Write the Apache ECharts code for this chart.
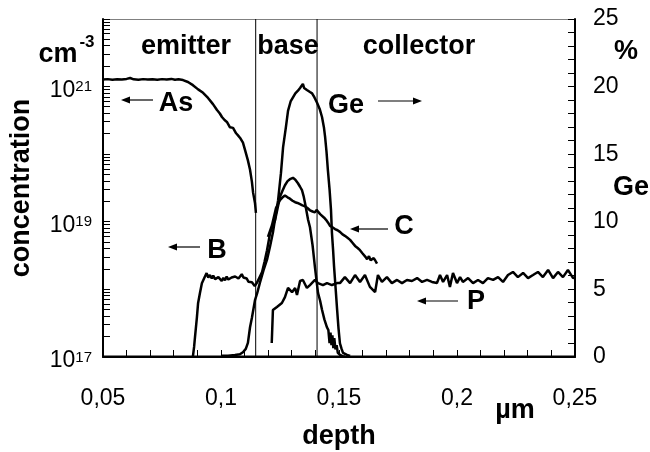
<!DOCTYPE html>
<html><head><meta charset="utf-8">
<script src="https://cdn.jsdelivr.net/npm/echarts@6/dist/echarts.min.js"></script>
<style>html,body{margin:0;padding:0;background:#fff}#c{width:650px;height:452px}</style>
</head><body><div id="c"></div>
<script>
// ---- data (depth in µm, concentration in cm^-3, Ge in %) ----
const depthTicks = [0.05, 0.10, 0.15, 0.20, 0.25];
const regionBoundaries = [0.1147, 0.1407];

const asDepth = [0.0500,0.0520,0.0540,0.0560,0.0580,0.0600,0.0615,0.0630,0.0650,0.0670,0.0690,0.0710,0.0730,0.0750,0.0770,0.0790,0.0805,0.0820,0.0839,0.0860,0.0881,0.0903,0.0924,0.0945,0.0966,0.0983,0.0995,0.1004,0.1015,0.1025,0.1038,0.1051,0.1064,0.1072,0.1081,0.1093,0.1102,0.1114,0.1123,0.1131,0.1136,0.1144,0.1148];
const asConc  = [1.27e21,1.29e21,1.26e21,1.28e21,1.27e21,1.30e21,1.34e21,1.28e21,1.26e21,1.29e21,1.27e21,1.28e21,1.26e21,1.29e21,1.27e21,1.30e21,1.26e21,1.28e21,1.25e21,1.17e21,1.05e21,9.1e20,8.1e20,6.8e20,5.5e20,4.5e20,4.0e20,3.55e20,3.2e20,3.0e20,2.5e20,2.45e20,2.04e20,1.9e20,1.74e20,1.48e20,1.15e20,8.1e19,5.9e19,3.9e19,2.7e19,1.9e19,1.35e19];

const bDepth = [0.0881,0.0886,0.0890,0.0898,0.0903,0.0911,0.0919,0.0932,0.0939,0.0946,0.0953,0.0961,0.0967,0.0975,0.0982,0.0989,0.0996,0.1003,0.1010,0.1017,0.1024,0.1031,0.1038,0.1045,0.1052,0.1060,0.1067,0.1074,0.1081,0.1088,0.1095,0.1102,0.1109,0.1116,0.1123,0.1131,0.1137,0.1143,0.1148,0.1152,0.1157,0.1165,0.1174,0.1185,0.1195,0.1208,0.1218,0.1229,0.1240,0.1250,0.1261,0.1271,0.1282,0.1292,0.1305,0.1315,0.1326,0.1335,0.1343,0.1350,0.1356,0.1369,0.1377,0.1388,0.1398,0.1411,0.1420,0.1428,0.1438,0.1449,0.1455,0.1460,0.1464,0.1468,0.1472,0.1476,0.1480,0.1485,0.1490,0.1495,0.1504,0.1515,0.1525];
const bConc  = [1.02e17,1.41e17,2.0e17,3.9e17,6.3e17,8.9e17,1.23e18,1.55e18,1.74e18,1.5e18,1.63e18,1.45e18,1.6e18,1.42e18,1.38e18,1.52e18,1.45e18,1.33e18,1.48e18,1.36e18,1.55e18,1.40e18,1.38e18,1.50e18,1.42e18,1.55e18,1.60e18,1.45e18,1.52e18,1.68e18,1.50e18,1.58e18,1.45e18,1.30e18,1.25e18,1.28e18,1.20e18,1.12e18,1.17e18,1.25e18,1.29e18,1.55e18,1.80e18,2.6e18,3.8e18,6.8e18,8.5e18,1.05e19,1.6e19,2.34e19,2.9e19,3.47e19,4.0e19,4.27e19,4.47e19,4.2e19,3.72e19,3.3e19,2.95e19,2.4e19,1.9e19,1.07e19,8.3e18,4.5e18,2.14e18,8.9e17,6.8e17,5.0e17,3.6e17,2.75e17,2.5e17,1.6e17,2.3e17,1.5e17,2.1e17,1.35e17,1.9e17,1.3e17,1.5e17,1.15e17,1.08e17,1.03e17,1.01e17];

const cDepth = [0.1199,0.1216,0.1233,0.1250,0.1261,0.1271,0.1282,0.1292,0.1303,0.1314,0.1324,0.1335,0.1345,0.1356,0.1366,0.1377,0.1388,0.1398,0.1405,0.1411,0.1420,0.1428,0.1437,0.1445,0.1453,0.1462,0.1472,0.1483,0.1494,0.1504,0.1515,0.1525,0.1536,0.1547,0.1557,0.1568,0.1579,0.1589,0.1600,0.1606,0.1613,0.1619,0.1627,0.1634,0.1640,0.1647,0.1653,0.1661];
const cConc  = [6.0e18,8.9e18,1.6e19,2.1e19,2.3e19,2.45e19,2.3e19,2.2e19,2.05e19,1.95e19,1.9e19,1.82e19,1.75e19,1.7e19,1.6e19,1.48e19,1.42e19,1.38e19,1.5e19,1.55e19,1.3e19,1.23e19,1.15e19,1.07e19,9.8e18,8.7e18,8.3e18,7.8e18,7.5e18,7.1e18,6.5e18,6.2e18,5.8e18,5.4e18,4.9e18,4.4e18,4.1e18,3.8e18,3.4e18,3.2e18,3.0e18,2.8e18,3.1e18,2.7e18,2.6e18,2.9e18,2.7e18,2.4e18];

const pDepth = [0.1215,0.1220,0.1237,0.1258,0.1271,0.1284,0.1301,0.1314,0.1322,0.1335,0.1347,0.1364,0.1377,0.1398,0.1411,0.1432,0.1449,0.1470,0.1492,0.1504,0.1525,0.1547,0.1568,0.1589,0.1610,0.1631,0.1653,0.1665,0.1682,0.1703,0.1724,0.1746,0.1767,0.1788,0.1809,0.1831,0.1852,0.1873,0.1894,0.1915,0.1928,0.1941,0.1958,0.1970,0.1983,0.2000,0.2013,0.2025,0.2047,0.2068,0.2089,0.2110,0.2131,0.2153,0.2174,0.2195,0.2216,0.2237,0.2258,0.2280,0.2301,0.2322,0.2343,0.2364,0.2386,0.2407,0.2428,0.2449,0.2470,0.2492,0.2500];
const pConc  = [1.61e17,4.95e17,5.5e17,6.3e17,7.7e17,1.05e18,9.1e17,1.05e18,8.3e17,1.33e18,1.38e18,1.05e18,1.16e18,1.38e18,1.24e18,1.16e18,1.24e18,1.16e18,1.24e18,1.24e18,1.52e18,1.24e18,1.63e18,1.29e18,1.63e18,1.09e18,9.1e17,1.63e18,1.29e18,1.52e18,1.24e18,1.38e18,1.24e18,1.38e18,1.33e18,1.47e18,1.29e18,1.38e18,1.29e18,1.24e18,1.63e18,1.29e18,1.63e18,1.09e18,1.75e18,1.24e18,1.52e18,1.29e18,1.47e18,1.24e18,1.38e18,1.24e18,1.47e18,1.38e18,1.52e18,1.29e18,1.63e18,1.81e18,1.52e18,1.75e18,1.47e18,1.63e18,1.81e18,1.52e18,1.94e18,1.47e18,1.81e18,1.52e18,1.94e18,1.47e18,1.52e18];

const geDepth = [0.1004,0.1030,0.1059,0.1080,0.1093,0.1105,0.1114,0.1123,0.1131,0.1144,0.1153,0.1165,0.1180,0.1195,0.1208,0.1220,0.1229,0.1242,0.1254,0.1263,0.1275,0.1284,0.1295,0.1305,0.1315,0.1326,0.1335,0.1341,0.1347,0.1352,0.1356,0.1364,0.1371,0.1377,0.1386,0.1396,0.1407,0.1419,0.1428,0.1436,0.1441,0.1447,0.1453,0.1460,0.1466,0.1470,0.1475,0.1479,0.1486,0.1492,0.1498,0.1504,0.1511,0.1517,0.1534,0.1547];
const gePct   = [0.1,0.1,0.15,0.2,0.35,0.6,1.04,2.2,2.9,4.2,4.7,5.5,6.4,7.2,8.2,9.2,10.2,11.6,13.6,15.5,17.0,18.2,18.9,19.2,19.5,19.7,19.9,20.0,20.2,19.9,19.95,19.75,19.7,19.6,19.5,19.2,18.8,18.3,17.75,17.0,16.3,15.2,13.8,12.4,10.9,9.2,7.9,6.7,5.0,3.5,2.1,1.0,0.6,0.3,0.15,0.07];

// ---- chart ----
const F = 'Liberation Sans, Arial, sans-serif';
const zip = (a, b) => a.map((v, i) => [v, b[i]]);
const xMin = depthTicks[0], xMax = depthTicks[depthTicks.length - 1];
const yMin = 1e17, yMax = 1e22;
const geMin = 0, geMax = 25;

// tick positions (axis structure)
const logTicks = [];
[17, 18, 19, 20, 21].forEach(e => { for (let k = 1; k <= 9; k++) logTicks.push(k * Math.pow(10, e)); });
logTicks.push(yMax);
const xTicks = []; for (let i = 0; i <= 20; i++) xTicks.push(+(xMin + i * 0.01).toFixed(3));
const geTicks = []; for (let i = geMin; i <= geMax; i++) geTicks.push(i);

const lineSeries = (name, data, yIdx, w) => ({
  name, type: 'line', data, yAxisIndex: yIdx, showSymbol: false, symbol: 'none', silent: true,
  lineStyle: { color: '#000', width: w || 2.5 }, itemStyle: { color: '#000' }, z: 3
});
const tickSeries = (name, yIdx, data, dx, dy) => ({
  type: 'custom', name, coordinateSystem: 'cartesian2d', xAxisIndex: 0, yAxisIndex: yIdx,
  clip: false, silent: true, z: 6, data,
  renderItem: (params, api) => {
    const p = api.coord([api.value(0), api.value(1)]);
    const r = dy === 0
      ? { x: dx > 0 ? p[0] : p[0] + dx, y: Math.floor(p[1]), width: Math.abs(dx), height: 1 }
      : { x: Math.floor(p[0]), y: dy > 0 ? p[1] : p[1] + dy, width: 1, height: Math.abs(dy) };
    return { type: 'rect', shape: r, style: { fill: '#000' } };
  }
});

const chart = echarts.init(document.getElementById('c'), null, { renderer: 'canvas' });

const bold = s => ({ fill: '#000', font: 'bold ' + s + 'px ' + F });
const txt = (text, x, y, size) => ({
  type: 'text', x, y, silent: true, z: 10,
  style: Object.assign({ text, textAlign: 'center', textVerticalAlign: 'middle' }, bold(size))
});
const arrow = (x1, x2, y) => {
  const dir = x2 > x1 ? 1 : -1, L = 9, W = 3.5;
  return { type: 'group', silent: true, z: 10, children: [
    { type: 'line', shape: { x1, y1: y, x2: x2 - dir * L + dir, y2: y }, style: { stroke: '#000', lineWidth: 1.2 } },
    { type: 'polygon', shape: { points: [[x2, y], [x2 - dir * L, y - W], [x2 - dir * L, y + W]] }, style: { fill: '#000' } }
  ]};
};

chart.setOption({
  animation: false,
  backgroundColor: '#fff',
  grid: { left: 103, right: 75, top: 19, bottom: 95, show: false, containLabel: false, outerBoundsMode: 'none' },
  xAxis: [{
    type: 'value', min: xMin, max: xMax, interval: 0.05, position: 'bottom', z: 5,
    axisLine: { show: true, onZero: false, lineStyle: { color: '#000', width: 2 } },
    axisTick: { show: false }, minorTick: { show: false },
    splitLine: { show: false },
    axisLabel: { show: true, margin: 30, fontSize: 23, color: '#000', fontFamily: F,
      formatter: v => v.toFixed(2).replace(/0+$/, '').replace('.', ',') },
    name: 'depth', nameLocation: 'middle', nameGap: 66,
    nameTextStyle: { fontSize: 27, fontWeight: 'bold', color: '#000', fontFamily: F }
  }, {
    type: 'value', min: xMin, max: xMax, position: 'top', z: 1,
    axisLine: { show: true, onZero: false, lineStyle: { color: '#808080', width: 1 } },
    axisTick: { show: false }, axisLabel: { show: false }, splitLine: { show: false }
  }],
  yAxis: [
    {
      type: 'log', logBase: 10, min: yMin, max: yMax, position: 'left', z: 5,
      axisLine: { show: true, onZero: false, lineStyle: { color: '#000', width: 2 } },
      axisTick: { show: false },
      splitLine: { show: false },
      axisLabel: {
        show: true, margin: 11, color: '#000',
        formatter: v => { const e = Math.round(Math.log10(v)); return (e - 17) % 2 === 0 ? '{b|10}{s|' + e + '}' : ''; },
        rich: {
          b: { fontSize: 23, fontFamily: F, color: '#000', lineHeight: 24, padding: [8, 0, 0, 0] },
          s: { fontSize: 15, fontFamily: F, color: '#000', lineHeight: 16, verticalAlign: 'top', padding: [5, 0, 0, 0] }
        }
      },
      name: 'concentration', nameLocation: 'middle', nameGap: 68, nameRotate: 90,
      nameTextStyle: { fontSize: 27, fontWeight: 'bold', color: '#000', fontFamily: F }
    },
    {
      type: 'value', min: geMin, max: geMax, interval: 5, position: 'right', z: 5,
      axisLine: { show: true, onZero: false, lineStyle: { color: '#000', width: 2 } },
      axisTick: { show: false }, minorTick: { show: false },
      splitLine: { show: false },
      axisLabel: { show: true, margin: 18, fontSize: 23, color: '#000', fontFamily: F }
    }
  ],
  series: [
    lineSeries('boundary1', [[regionBoundaries[0], yMin], [regionBoundaries[0], yMax]], 0, 1),
    lineSeries('boundary2', [[regionBoundaries[1], yMin], [regionBoundaries[1], yMax]], 0, 1),
    lineSeries('As', zip(asDepth, asConc), 0),
    lineSeries('B', zip(bDepth, bConc), 0),
    lineSeries('C', zip(cDepth, cConc), 0),
    lineSeries('P', zip(pDepth, pConc), 0),
    lineSeries('Ge', zip(geDepth, gePct), 1),
    tickSeries('logTicks', 0, logTicks.map(v => [xMin, v]), 7, 0),
    tickSeries('geTicks', 1, geTicks.map(v => [xMax, v]), -7, 0)
  ]
});

// x-axis ticks: positions obtained from the grid's axes
const toPx = v => {
  const r = chart.convertToPixel({ xAxisIndex: 0, yAxisIndex: 1 }, [v, geMin]);
  return Array.isArray(r) ? r : [NaN, NaN];
};
const combPoints = [];
xTicks.forEach(v => {
  const p = toPx(v);
  const x = Math.floor(p[0]) + 0.5;
  combPoints.push([x, p[1] - 1], [x, p[1] - 7], [x, p[1] - 1]);
});

chart.setOption({
  graphic: [
    txt('cm', 58, 55, 27),
    txt('-3', 87, 42, 17),
    txt('%', 626, 52, 27),
    txt('Ge', 631, 188, 27),
    txt('µm', 515, 411, 27),
    txt('emitter', 186, 47, 27),
    txt('base', 288, 47, 27),
    txt('collector', 419, 47, 27),
    txt('As', 176, 104, 27),
    txt('Ge', 346, 106, 27),
    txt('B', 217, 251, 27),
    txt('C', 404, 227, 27),
    txt('P', 476, 302, 27),
    arrow(153, 121, 100),
    arrow(378, 422, 101),
    arrow(200, 168, 247),
    arrow(388, 350, 229),
    arrow(458, 417, 301),
    { type: 'polyline', silent: true, z: 10, shape: { points: combPoints }, style: { stroke: '#000', lineWidth: 1, fill: null } }
  ]
});
</script>
</body></html>
